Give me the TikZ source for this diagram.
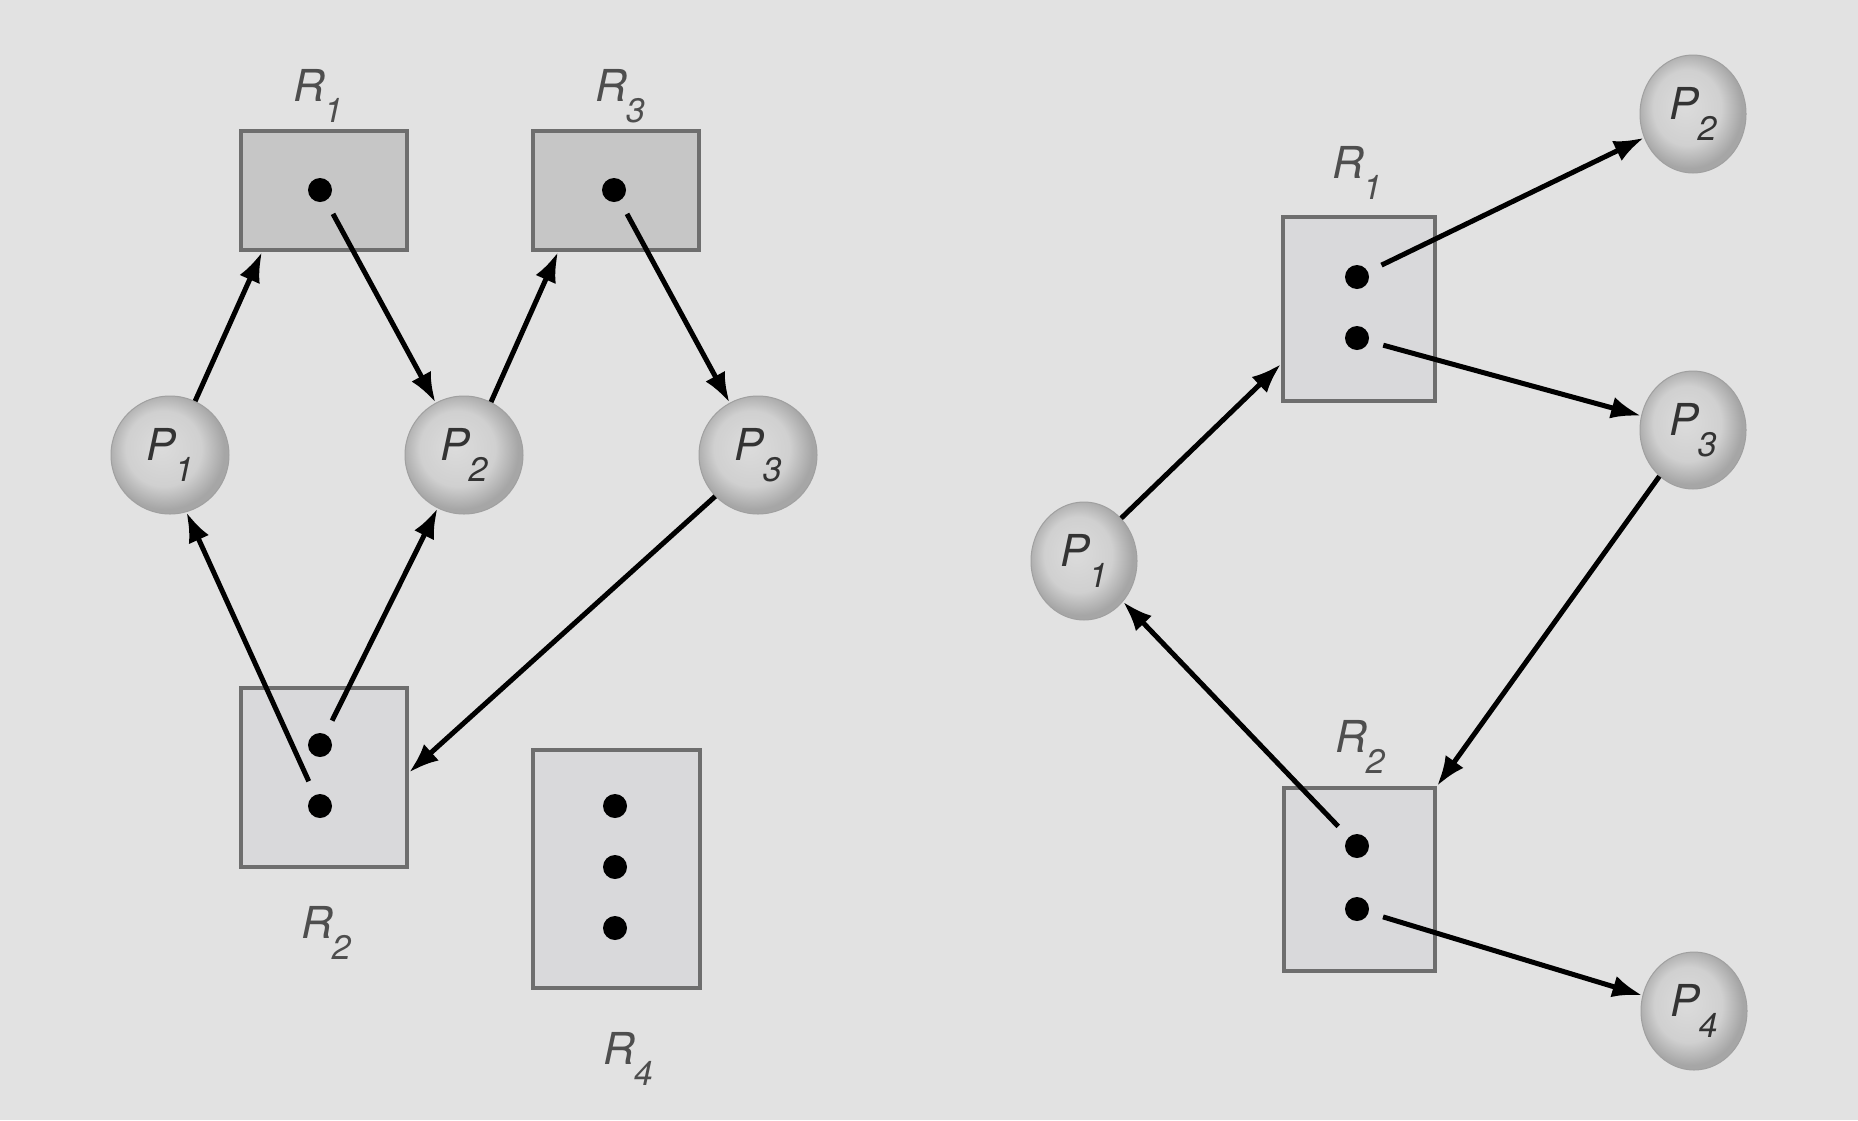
\documentclass[tikz,border=0pt]{standalone}
\usepackage{fontspec}
\setmainfont{TeX Gyre Heros}
\usetikzlibrary{arrows.meta,shapes.geometric}
\definecolor{bg}{HTML}{E2E2E2}
\definecolor{boxdark}{HTML}{C6C6C6}
\definecolor{boxlight}{HTML}{D9D9DB}
\definecolor{boxline}{HTML}{6E6E6E}
\definecolor{labgray}{HTML}{4E4E4E}
\definecolor{ptext}{HTML}{333333}
\definecolor{pcin}{HTML}{DCDCDC}
\definecolor{pcmid}{HTML}{D0D0D0}
\definecolor{pcout}{HTML}{A6A6A6}
\definecolor{pline}{HTML}{A0A0A0}
\pgfdeclareradialshading{pball}{\pgfpoint{-4bp}{4bp}}{color(0bp)=(pcin); color(16bp)=(pcmid); color(25bp)=(pcout); color(50bp)=(pcout)}
\newcommand\mysubsc[1]{\kern-1pt\raisebox{-21pt}{\fontsize{34}{34}\selectfont #1}}
\newcommand\mylab[2]{\itshape #1\mysubsc{#2}}
\begin{document}
\begin{tikzpicture}[x=1pt,y=-1pt,
  resdark/.style={rectangle, draw=boxline, line width=4pt, fill=boxdark, inner sep=0pt},
  reslight/.style={rectangle, draw=boxline, line width=4pt, fill=boxlight, inner sep=0pt},
  dotn/.style={circle, fill=black, minimum size=24pt, inner sep=0pt},
  procL/.style={circle, minimum size=118pt, inner sep=0pt, shading=pball, draw=pline, line width=1pt,
     text=ptext, font=\fontsize{44}{44}\selectfont},
  procR/.style={ellipse, minimum width=106pt, minimum height=118pt, inner sep=0pt, shading=pball, draw=pline, line width=1pt,
     text=ptext, font=\fontsize{44}{44}\selectfont},
  rlab/.style={anchor=base, text=labgray, font=\fontsize{44}{44}\selectfont, inner sep=0pt},
  arr/.style={line width=5pt, -{Latex[length=30pt,width=22pt]}},
  fromdot/.style={shorten <=15pt}]
\fill[bg] (0,0) rectangle (1858,1120);
\useasboundingbox (0,0) rectangle (1858,1120);

% ---------- left graph ----------
\node[resdark, minimum width=166pt, minimum height=119pt] (lR1) at (324,190.5) {};
\node[resdark, minimum width=166pt, minimum height=119pt] (lR3) at (616,190.5) {};
\node[reslight, minimum width=166pt, minimum height=179pt] (lR2) at (324,777.5) {};
\node[reslight, minimum width=167pt, minimum height=238pt] (lR4) at (616.5,869) {};

\node[dotn] (lR1d) at (320,190) {};
\node[dotn] (lR3d) at (614,190) {};
\node[dotn] (lR2d1) at (320,745) {};
\node[dotn] (lR2d2) at (320,806) {};
\node[dotn] (lR4d1) at (615,806) {};
\node[dotn] (lR4d2) at (615,867) {};
\node[dotn] (lR4d3) at (615,928) {};

\node[procL] (lP1) at (170,455) {\mylab{P}{1}};
\node[procL] (lP2) at (464,455) {\mylab{P}{2}};
\node[procL] (lP3) at (758,455) {\mylab{P}{3}};

\node[rlab] (lR1l) at (318,101) {\mylab{R}{1}};
\node[rlab] (lR3l) at (620,101) {\mylab{R}{3}};
\node[rlab] (lR2l) at (326,938) {\mylab{R}{2}};
\node[rlab] (lR4l) at (628,1064) {\mylab{R}{4}};

\draw[arr] (lP1.65) -- ([xshift=23pt]lR1.south west);
\draw[arr, fromdot] (lR1d) -- (lP2);
\draw[arr] (lP2.63) -- ([xshift=27pt]lR3.south west);
\draw[arr, fromdot] (lR3d) -- (lP3);
\draw[arr, fromdot] (lR2d2) -- (lP1.-74);
\draw[arr, fromdot] (lR2d1) -- (lP2);
\draw[arr] (lP3.224) -- ([yshift=5pt]lR2.east);

% ---------- right graph ----------
\node[reslight, minimum width=152pt, minimum height=184pt] (rR1) at (1359,309) {};
\node[reslight, minimum width=151pt, minimum height=183pt] (rR2) at (1359.5,879.5) {};

\node[dotn] (rR1d1) at (1357,277) {};
\node[dotn] (rR1d2) at (1357,338) {};
\node[dotn] (rR2d1) at (1357,846) {};
\node[dotn] (rR2d2) at (1357,909) {};

\node[procR] (rP1) at (1084,561) {\mylab{P}{1}};
\node[procR] (rP2) at (1693,114) {\mylab{P}{2}};
\node[procR] (rP3) at (1693,430) {\mylab{P}{3}};
\node[procR] (rP4) at (1694,1011) {\mylab{P}{4}};

\node[rlab] (rR1l) at (1357,178) {\mylab{R}{1}};
\node[rlab] (rR2l) at (1360,752) {\mylab{R}{2}};

\draw[arr] (rP1.49) -- ([yshift=-55pt]rR1.west);
\draw[arr, fromdot] (rR1d1) -- (rP2);
\draw[arr, fromdot] (rR1d2) -- (rP3);
\draw[arr] (rP3.234) -- (rR2.north east);
\draw[arr, fromdot] (rR2d1) -- (rP1);
\draw[arr, fromdot] (rR2d2) -- (rP4);
\end{tikzpicture}
\end{document}
